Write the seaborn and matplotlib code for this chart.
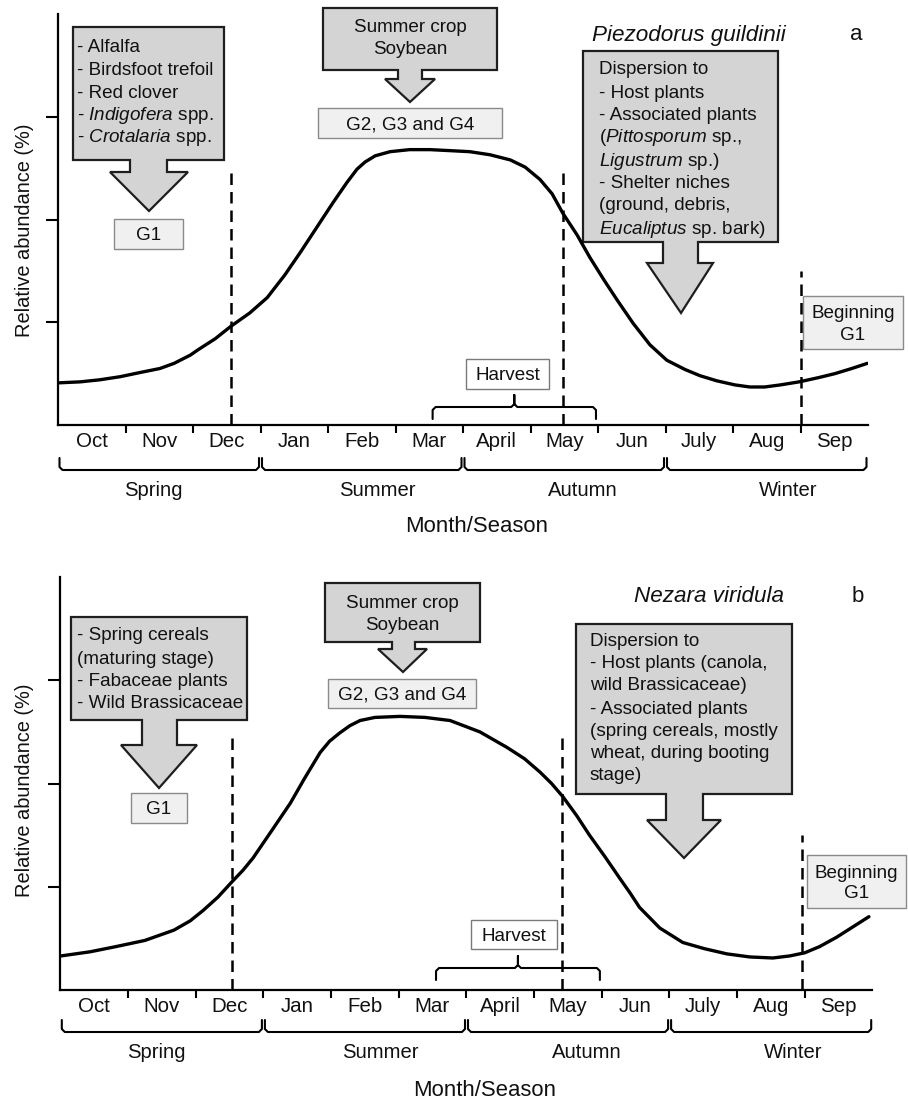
import numpy as np
import pandas as pd
import matplotlib
matplotlib.use("Agg")
import matplotlib.pyplot as plt
import seaborn as sns
from matplotlib.patches import Polygon, Rectangle

# ---------------- data ----------------
months = ['Oct', 'Nov', 'Dec', 'Jan', 'Feb', 'Mar', 'April', 'May', 'Jun', 'July', 'Aug', 'Sep']
seasons = ['Spring', 'Summer', 'Autumn', 'Winter']
season_start = [0, 3, 6, 9]
season_end = [3, 6, 9, 12]

# Panel a: Piezodorus guildinii (month position, relative abundance)
a_month = [0.00, 0.33, 0.62, 0.92, 1.21, 1.51, 1.72, 1.96, 2.07, 2.33, 2.56, 2.84, 3.10,
           3.36, 3.59, 3.85, 4.07, 4.28, 4.43, 4.55, 4.70, 4.92, 5.21, 5.51, 5.81, 6.10,
           6.40, 6.70, 6.92, 7.14, 7.32, 7.48, 7.69, 7.88, 8.09, 8.28, 8.52, 8.77, 9.02,
           9.29, 9.51, 9.76, 10.03, 10.25, 10.47, 10.70, 10.98, 11.26, 11.51, 11.76, 11.99]
a_abund = [0.41, 0.42, 0.44, 0.47, 0.51, 0.55, 0.60, 0.68, 0.73, 0.84, 0.96, 1.09, 1.24,
           1.46, 1.68, 1.94, 2.16, 2.36, 2.49, 2.56, 2.62, 2.66, 2.68, 2.68, 2.67, 2.66,
           2.63, 2.58, 2.51, 2.39, 2.25, 2.06, 1.85, 1.63, 1.41, 1.22, 0.99, 0.78, 0.63,
           0.54, 0.48, 0.43, 0.39, 0.37, 0.37, 0.39, 0.42, 0.46, 0.50, 0.55, 0.60]

# Panel b: Nezara viridula
b_month = [0.01, 0.44, 0.82, 1.25, 1.68, 1.92, 2.11, 2.33, 2.54, 2.70, 2.85, 3.10, 3.40,
           3.61, 3.84, 3.98, 4.13, 4.28, 4.43, 4.65, 5.02, 5.39, 5.76, 6.20, 6.60, 6.86,
           7.09, 7.26, 7.43, 7.63, 7.82, 8.05, 8.27, 8.42, 8.56, 8.86, 9.20, 9.52, 9.85,
           10.19, 10.53, 10.78, 11.00, 11.22, 11.47, 11.71, 11.95]
b_abund = [0.33, 0.37, 0.42, 0.48, 0.58, 0.67, 0.77, 0.90, 1.05, 1.16, 1.28, 1.52, 1.81,
           2.05, 2.30, 2.41, 2.49, 2.56, 2.61, 2.64, 2.65, 2.64, 2.61, 2.50, 2.35, 2.24,
           2.11, 2.00, 1.87, 1.69, 1.50, 1.29, 1.08, 0.94, 0.80, 0.60, 0.46, 0.40, 0.35,
           0.32, 0.31, 0.33, 0.36, 0.42, 0.51, 0.61, 0.71]

a_dash_x = [2.56, 7.48, 11.0]
a_dash_top = [2.5, 2.5, 1.5]
b_dash_x = [2.54, 7.42, 10.96]
b_dash_top = [2.5, 2.5, 1.5]

harvest_start, harvest_end = 5.55, 7.97

# ---------------- style ----------------
sns.set_theme(style="ticks")
plt.rcParams['font.family'] = ['Liberation Sans', 'DejaVu Sans']
plt.rcParams['mathtext.fontset'] = 'custom'
plt.rcParams['mathtext.rm'] = 'Liberation Sans'
plt.rcParams['mathtext.it'] = 'Liberation Sans:italic'
plt.rcParams['mathtext.bf'] = 'Liberation Sans:bold'

W, H = 908, 1101
fig = plt.figure(figsize=(W / 100, H / 100), dpi=100)

ov = fig.add_axes([0, 0, 1, 1])
ov.set_xlim(0, W)
ov.set_ylim(H, 0)
ov.axis('off')

BOX_FC = '#d4d4d4'
BOX_EC = '#1e1e1e'
LBOX_FC = '#f0f0f0'
LBOX_EC = '#8a8a8a'
TXT = 13.6


def callout(L, T, R, B, sl, sr, wl, wr, wy, tx, ty):
    verts = [(L, T), (R, T), (R, B), (sr, B), (sr, wy), (wr, wy), (tx, ty),
             (wl, wy), (sl, wy), (sl, B), (L, B)]
    ov.add_patch(Polygon(verts, closed=True, fc=BOX_FC, ec=BOX_EC, lw=1.6,
                         joinstyle='miter', zorder=2))


def lbox(L, T, R, B, fc=LBOX_FC, ec=LBOX_EC):
    ov.add_patch(Rectangle((L, T), R - L, B - T, fc=fc, ec=ec, lw=1.0, zorder=2))


def lines(x, ys, texts, ha='left', size=TXT, style='normal'):
    for y, t in zip(ys, texts):
        ov.text(x, y + 6.5, t, ha=ha, va='baseline', fontsize=size, color='#111111',
                style=style, zorder=3)


def panel(rect, xs, ys, dash_x, dash_top, X0, MW, base, season_y, season_lab_x,
          season_lab_y, ylab_y, mlab_x, mlab_y, hv):
    ax = fig.add_axes(rect)
    ax.set_facecolor('none')
    df = pd.DataFrame({'month': xs, 'abundance': ys})
    sns.lineplot(data=df, x='month', y='abundance', ax=ax, color='black', lw=2.4,
                 estimator=None, sort=False)
    for ln in ax.lines:
        ln.set_solid_joinstyle('round')
        ln.set_solid_capstyle('round')
    ax.vlines(dash_x, 0, dash_top, colors='black', linestyles=(0, (4.6, 2.8)), lw=1.8)
    ax.set_xlim(0, 12)
    ax.set_ylim(0, 4)
    for s in ['top', 'right']:
        ax.spines[s].set_visible(False)
    for s in ['left', 'bottom']:
        ax.spines[s].set_linewidth(1.6)
        ax.spines[s].set_color('black')
    ax.set_xticks(range(1, 12))
    ax.set_xticklabels([])
    ax.set_xticks(np.arange(12) + 0.5, minor=True)
    ax.set_xticklabels(months, minor=True, fontsize=14.8, color='#111111')
    ax.tick_params(axis='x', which='major', direction='out', length=6, width=1.5,
                   color='black', bottom=True)
    ax.tick_params(axis='x', which='minor', length=0, pad=5, bottom=True)
    ax.set_yticks([1, 2, 3])
    ax.set_yticklabels([])
    ax.tick_params(axis='y', direction='out', length=9, width=1.5, color='black', left=True)
    ax.set_xlabel('')
    ax.set_ylabel('')

    px = lambda m: X0 + m * MW
    # season braces
    top, bot = season_y
    for s0, s1, lab, lx in zip(season_start, season_end, seasons, season_lab_x):
        x0, x1 = px(s0) + 1.5, px(s1) - 1.5
        ov.plot([x0, x0, x0 + 3, x1 - 3, x1, x1], [top, bot - 3, bot, bot, bot - 3, top],
                color='black', lw=1.5, solid_joinstyle='round')
        ov.text(lx, season_lab_y, lab, ha='center', va='center', fontsize=14.6,
                color='#111111')
    # harvest brace
    L, R = px(harvest_start), px(harvest_end)
    C = (L + R) / 2
    yh, ye, yn = hv
    ov.plot([L, L, L + 3, C - 3, C, C, C, C + 3, R - 3, R, R],
            [ye, yh + 3, yh, yh, yh - 3, yn, yh - 3, yh, yh, yh + 3, ye],
            color='black', lw=1.5, solid_joinstyle='round')
    ov.text(25, ylab_y, 'Relative abundance (%)', rotation=90, ha='center', va='center',
            fontsize=14.4, color='#111111')
    ov.text(mlab_x, mlab_y, 'Month/Season', ha='center', va='center', fontsize=15.9,
            color='#111111')
    return ax


# ---------------- panel a ----------------
axa = panel([58 / W, 1 - 425 / H, 810 / W, 411 / H], a_month, a_abund, a_dash_x, a_dash_top,
            58, 67.5, 425, (458, 470), [153, 377, 583, 788], 491, 230, 477, 527,
            (407, 419, 395))

callout(73, 27, 224, 160, 130, 167, 110, 188, 172, 149, 211)
lines(77, [46, 68.5, 91, 113.5, 136],
      ['- Alfalfa', '- Birdsfoot trefoil', '- Red clover',
       r'- $\mathit{Indigofera}$ spp.', r'- $\mathit{Crotalaria}$ spp.'])
lbox(114, 219, 183, 249)
lines(148.5, [234], ['G1'], ha='center')

callout(323, 8, 497, 70, 398, 422, 385, 435, 79, 410, 102)
lines(410, [26, 48], ['Summer crop', 'Soybean'], ha='center')
lbox(318, 108, 502, 138)
lines(410, [123], ['G2, G3 and G4'], ha='center')

callout(583, 51, 778, 242, 663, 698, 647, 713, 263, 681, 313)
lines(599, [68, 91, 113, 136, 159, 182, 204, 227],
      ['Dispersion to', '- Host plants', '- Associated plants',
       r'($\mathit{Pittosporum}$ sp.,', r'$\mathit{Ligustrum}$ sp.)',
       '- Shelter niches', '(ground, debris,', r'$\mathit{Eucaliptus}$ sp. bark)'])

lbox(803, 296, 903, 349)
lines(853, [312, 333], ['Beginning', 'G1'], ha='center')
lbox(466, 359, 549, 389, fc='white', ec='#7a7a7a')
lines(507.5, [374], ['Harvest'], ha='center')

ov.text(689, 35, 'Piezodorus guildinii', style='italic', ha='center', va='center',
        fontsize=16.2, color='#111111')
ov.text(856, 35, 'a', ha='center', va='center', fontsize=16, color='#111111')

# ---------------- panel b ----------------
axb = panel([60.3 / W, 1 - 990 / H, 812 / W, 413 / H], b_month, b_abund, b_dash_x, b_dash_top,
            60.3, 67.7, 990, (1020, 1032), [156, 380, 587, 793], 1052, 790, 485, 1090,
            (968, 980, 956))

callout(71, 617, 247, 720, 142, 177, 121, 197, 745, 159, 788)
lines(77, [634, 657, 679, 702],
      ['- Spring cereals', '(maturing stage)', '- Fabaceae plants', '- Wild Brassicaceae'])
lbox(131, 793, 187, 823)
lines(159, [808], ['G1'], ha='center')

callout(325, 583, 480, 642, 392, 415, 378, 427, 649, 403, 672)
lines(402.5, [601, 623], ['Summer crop', 'Soybean'], ha='center')
lbox(328, 679, 476, 708)
lines(402, [693.5], ['G2, G3 and G4'], ha='center')

callout(576, 624, 792, 794, 666, 703, 647, 721, 820, 684, 858)
lines(590, [639, 662, 684, 707, 729, 752, 774],
      ['Dispersion to', '- Host plants (canola,', 'wild Brassicaceae)',
       '- Associated plants', '(spring cereals, mostly', 'wheat, during booting', 'stage)'])

lbox(807, 855, 906, 908)
lines(856.5, [871, 892], ['Beginning', 'G1'], ha='center')
lbox(471, 920, 557, 949, fc='white', ec='#7a7a7a')
lines(514, [934.5], ['Harvest'], ha='center')

ov.text(709, 596, 'Nezara viridula', style='italic', ha='center', va='center',
        fontsize=16.2, color='#111111')
ov.text(858, 596, 'b', ha='center', va='center', fontsize=16, color='#111111')

fig.savefig('out.png', dpi=100)
